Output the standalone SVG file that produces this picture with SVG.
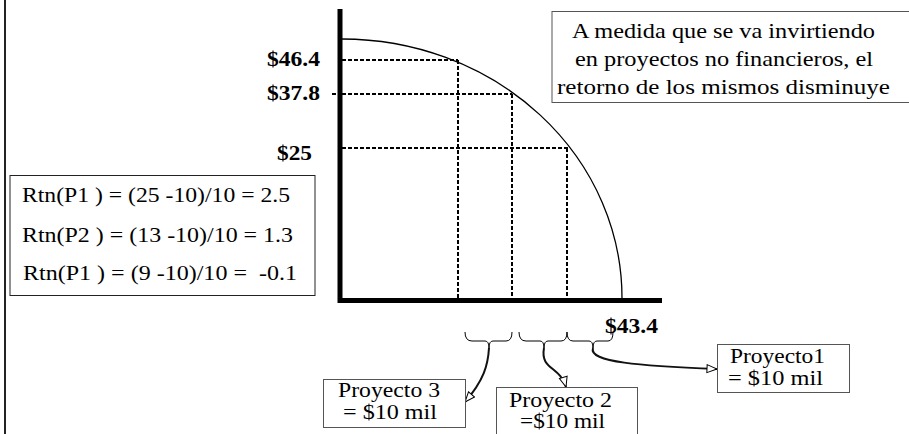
<svg xmlns="http://www.w3.org/2000/svg" width="909" height="434" viewBox="0 0 909 434">
<style>
text{font-family:'Liberation Serif','Times New Roman','DejaVu Serif',serif;fill:#000}
.b{font-weight:bold;font-size:21px}
.r{font-size:22px}
.s{font-size:20px}
.box{fill:#fff;stroke-width:1}
.dash{stroke:#000;stroke-width:2;stroke-dasharray:4 2;fill:none}
.axis{stroke:#000;stroke-width:5;fill:none}
.brace{stroke:#000;stroke-width:1;fill:none}
.arr{stroke:#111;stroke-width:2;fill:none;marker-end:url(#ah)}
</style>
<defs>
<marker id="ah" viewBox="0 0 12 10" refX="11" refY="5" markerWidth="12" markerHeight="10" markerUnits="userSpaceOnUse" orient="auto">
<path d="M1,1 L11,5 L1,9 Z" fill="#fff" stroke="#000" stroke-width="1"/>
</marker>
</defs>
<rect width="909" height="434" fill="#fff"/>
<line x1="5" y1="0" x2="5" y2="434" stroke="#222" stroke-width="2"/>

<g id="chart" font-family="Liberation Serif, serif">
<path d="M342,39 A280,259 0 0 1 622,298" fill="none" stroke="#000" stroke-width="1.3"/>
<path class="dash" d="M342,60 H458 M332,94 H336 M342,94 H512 M342,148 H568 M458,60 V298 M512,94 V298 M567,148 V298"/>
<line class="axis" x1="340" y1="9" x2="340" y2="303"/>
<line class="axis" x1="338" y1="300.5" x2="662" y2="300.5"/>
<text class="b" x="320" y="66" text-anchor="end" textLength="53" lengthAdjust="spacingAndGlyphs">$46.4</text>
<text class="b" x="320" y="100" text-anchor="end" textLength="53" lengthAdjust="spacingAndGlyphs">$37.8</text>
<text class="b" x="312" y="160" text-anchor="end" textLength="35" lengthAdjust="spacingAndGlyphs">$25</text>
<text class="b" x="605" y="333" textLength="53" lengthAdjust="spacingAndGlyphs">$43.4</text>
</g>

<g id="note" font-family="Liberation Serif, serif">
<rect class="box" x="552" y="11.5" width="360" height="91" stroke="#555"/>
<text class="r" x="572" y="38" textLength="303" lengthAdjust="spacingAndGlyphs">A medida que se va invirtiendo</text>
<text class="r" x="575" y="66" textLength="298" lengthAdjust="spacingAndGlyphs">en proyectos no financieros, el</text>
<text class="r" x="557" y="94" textLength="333" lengthAdjust="spacingAndGlyphs">retorno de los mismos disminuye</text>
</g>

<g id="formulas" font-family="Liberation Serif, serif">
<rect class="box" x="10" y="175.5" width="305" height="120" stroke="#222"/>
<text class="r" x="22" y="202" textLength="268" lengthAdjust="spacingAndGlyphs">Rtn(P1 ) = (25 -10)/10 = 2.5</text>
<text class="r" x="22" y="242" textLength="271" lengthAdjust="spacingAndGlyphs">Rtn(P2 ) = (13 -10)/10 = 1.3</text>
<text class="r" x="23" y="280" textLength="274" lengthAdjust="spacingAndGlyphs" xml:space="preserve">Rtn(P1 ) = (9 -10)/10 =  -0.1</text>
</g>

<g id="braces">
<path class="brace" d="M465,332 Q465,341 472,341 H485 Q489,341 489,348 Q489,341 493,341 H506 Q512,341 512,332"/>
<path class="brace" d="M519,332 Q519,341 526,341 H540 Q544,341 544,348 Q544,341 548,341 H561 Q567,341 567,332"/>
<path class="brace" d="M567,332 Q567,341 573,341 H589 Q593,341 593,348 Q593,341 597,341 H608 Q613,341 613,332"/>
</g>

<g id="connectors">
<path class="arr" d="M489,348 C488,365 484,380 465,402"/>
<path class="arr" d="M544,348 C540,370 560,366 566,387"/>
<path class="arr" d="M593,348 C588,362 640,366 717,369"/>
</g>

<g id="proyecto3" font-family="Liberation Serif, serif">
<rect class="box" x="323.5" y="379.5" width="142" height="48" stroke="#555"/>
<text class="s" x="338" y="397" textLength="102" lengthAdjust="spacingAndGlyphs">Proyecto 3</text>
<text class="s" x="343" y="419" textLength="94" lengthAdjust="spacingAndGlyphs">= $10 mil</text>
</g>

<g id="proyecto2" font-family="Liberation Serif, serif">
<rect class="box" x="496.5" y="387.5" width="141" height="60" stroke="#555"/>
<text class="s" x="509" y="407" textLength="103" lengthAdjust="spacingAndGlyphs">Proyecto 2</text>
<text class="s" x="520" y="428" textLength="85" lengthAdjust="spacingAndGlyphs">=$10 mil</text>
</g>

<g id="proyecto1" font-family="Liberation Serif, serif">
<rect class="box" x="717.5" y="344.5" width="132" height="48" stroke="#555"/>
<text class="s" x="730" y="363" textLength="95" lengthAdjust="spacingAndGlyphs">Proyecto1</text>
<text class="s" x="728" y="385" textLength="95" lengthAdjust="spacingAndGlyphs">= $10 mil</text>
</g>
</svg>
